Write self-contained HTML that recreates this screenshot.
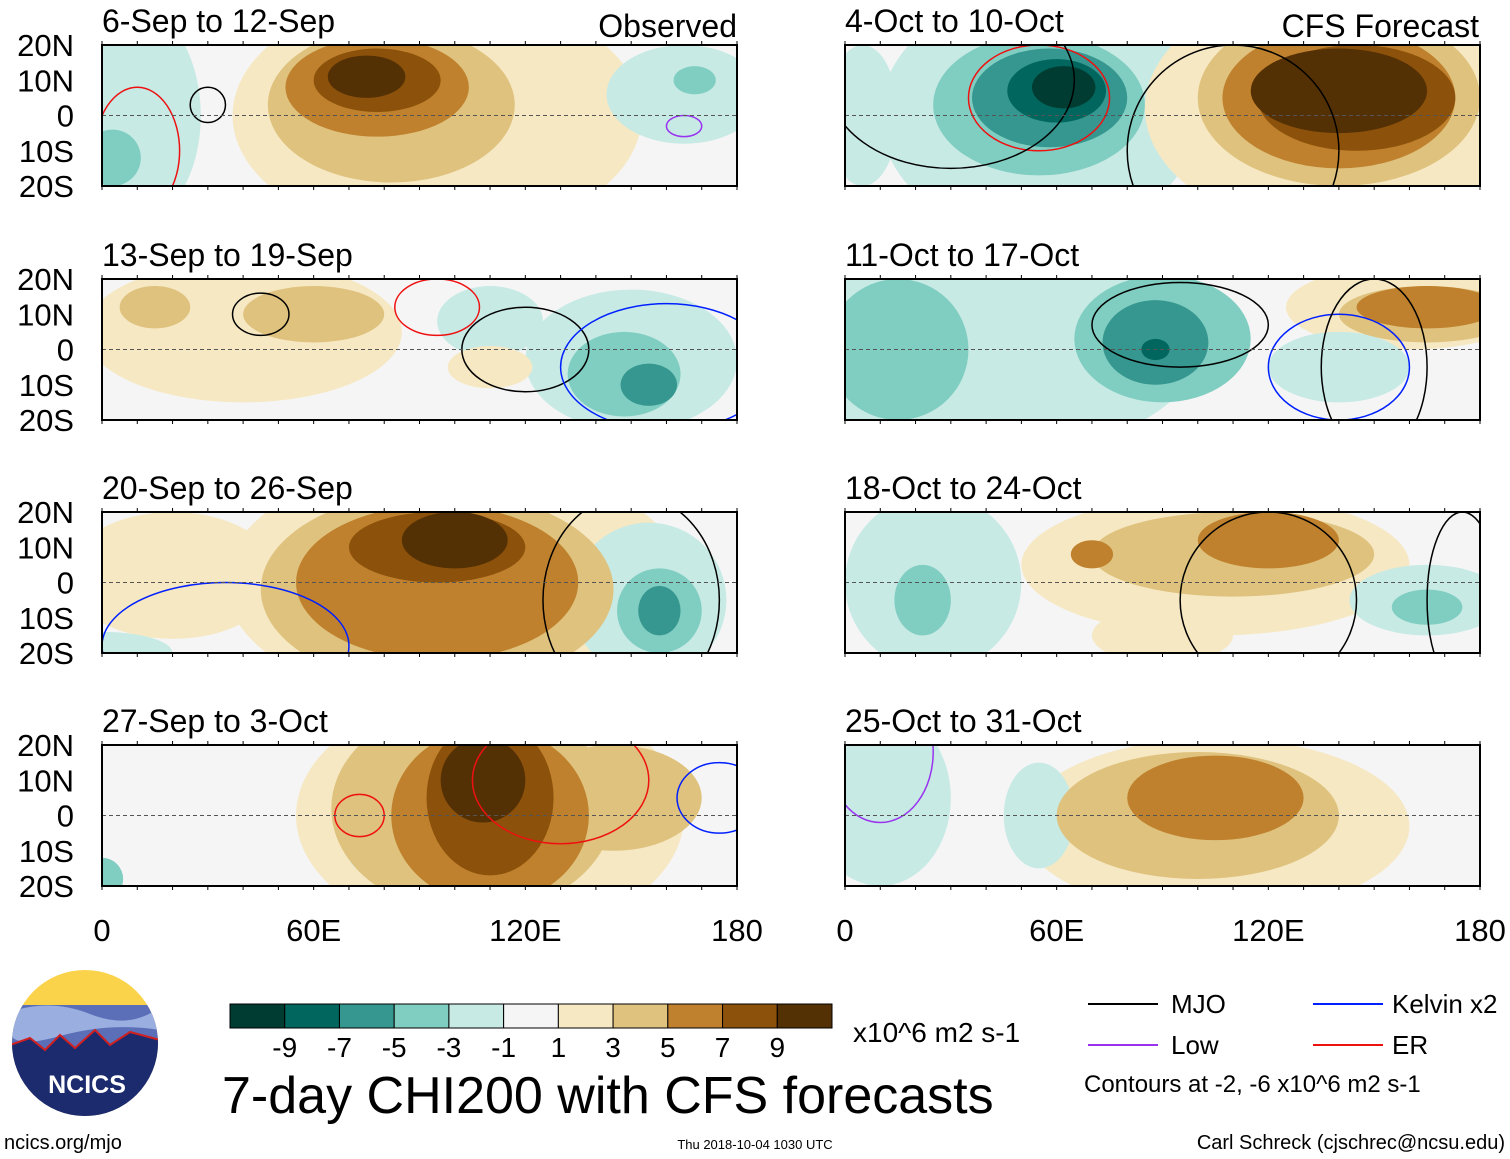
<!DOCTYPE html>
<html><head><meta charset="utf-8"><style>
body{margin:0;background:#fff;font-family:"Liberation Sans",sans-serif;}
#wrap{position:relative;width:1510px;height:1159px;overflow:hidden;}
svg text{font-family:"Liberation Sans",sans-serif;}
</style></head><body><div id="wrap">
<svg id="s" width="1510" height="1159" xmlns="http://www.w3.org/2000/svg"></svg>
</div>
<script>
const levels=[-9,-7,-5,-3,-1,1,3,5,7,9];
const colors=["#013c32","#01665e","#35978f","#80cdc1","#c7eae5","#f5f5f5","#f6e8c3","#dfc27d","#bf812d","#8c510a","#543005"];
const titles=["6-Sep to 12-Sep","13-Sep to 19-Sep","20-Sep to 26-Sep","27-Sep to 3-Oct","4-Oct to 10-Oct","11-Oct to 17-Oct","18-Oct to 24-Oct","25-Oct to 31-Oct"];
const latTicks=["20N","10N","0","10S","20S"];
const lonTicks=["0","60E","120E","180"];
// blobs: [lon, lat, rx(deg), ry(deg), value]
const p1=[[95,0,58,35,2],[82,3,35,22,4],[78,8,26,14,6],[78,10,18,9,8],[75,11,11,6,10],[10,0,18,30,-2],[3,-12,8,8,-4],[165,6,22,14,-2],[168,10,6,4,-4],[120,-12,15,8,0]];
const p2=[[40,5,45,20,2],[60,10,20,8,4],[15,12,10,6,4],[150,-3,30,20,-2],[148,-7,16,12,-4],[155,-10,8,6,-6],[110,8,15,10,-2],[110,-5,12,6,2]];
const p3=[[100,0,65,35,2],[95,-2,50,28,4],[95,0,40,22,6],[95,10,25,10,8],[100,12,15,8,10],[20,2,30,18,2],[155,-5,22,22,-2],[158,-8,12,12,-4],[158,-8,6,7,-6],[0,-20,20,6,-2]];
const p4=[[110,0,55,35,2],[105,2,40,30,4],[110,0,28,25,6],[110,5,18,22,8],[108,10,12,12,10],[145,5,25,15,4],[150,10,8,5,0],[0,-18,6,6,-4],[75,-8,6,8,-2],[10,0,15,20,0]];
const p5=[[55,0,45,35,-2],[55,3,30,20,-4],[58,5,22,14,-6],[60,7,14,9,-8],[62,8,9,6,-10],[140,2,55,35,2],[140,5,40,25,4],[140,5,33,20,6],[145,5,28,15,8],[140,7,25,12,10],[5,0,10,20,-2]];
const p6=[[40,0,60,30,-2],[15,0,20,20,-4],[90,3,25,18,-4],[88,2,15,12,-6],[88,0,4,3,-8],[160,12,35,12,2],[165,10,25,8,4],[165,12,20,6,6],[140,-5,20,10,-2]];
const p7=[[105,5,55,20,2],[110,8,40,12,4],[120,12,20,8,6],[70,8,6,4,6],[25,0,25,25,-2],[22,-5,8,10,-4],[165,-5,22,10,-2],[165,-7,10,5,-4],[90,-15,20,8,2]];
const p8=[[105,-3,55,25,2],[100,0,40,18,4],[105,5,25,12,6],[10,5,20,25,-2],[55,0,10,15,-2]];
const fields=[p1,p2,p3,p4,p5,p6,p7,p8];
// contours: [lon, lat, rx, ry, kind]
const c1=[[30,3,5,5,"mjo"],[10,-10,12,18,"er"],[165,-3,5,3,"low"]];
const c2=[[45,10,8,6,"mjo"],[95,12,12,8,"er"],[120,0,18,12,"mjo"],[160,-5,30,18,"kelvin"]];
const c3=[[35,-18,35,18,"kelvin"],[150,-5,25,30,"mjo"]];
const c4=[[73,0,7,6,"er"],[130,10,25,18,"er"],[175,5,12,10,"kelvin"]];
const c5=[[55,5,20,15,"er"],[30,10,35,25,"mjo"],[110,-10,30,30,"mjo"]];
const c6=[[95,7,25,12,"mjo"],[140,-5,20,15,"kelvin"],[150,-5,15,25,"mjo"]];
const c7=[[120,-5,25,25,"mjo"],[175,-5,10,25,"mjo"]];
const c8=[[10,18,15,20,"low"]];
const lines=[c1,c2,c3,c4,c5,c6,c7,c8];
const lineColors={mjo:"#000",kelvin:"#0020ff",er:"#ee1111",low:"#9933ee"};

const S=document.getElementById('s');const NS="http://www.w3.org/2000/svg";
function el(t,a,p){const e=document.createElementNS(NS,t);for(const k in a)e.setAttribute(k,a[k]);(p||S).appendChild(e);return e;}
function colorOf(v){let i=0;while(i<levels.length&&v>levels[i])i++;return colors[i];}
const px0=[102,845],pw=635,py0=[45,279,512,745],ph=141;
let defs=el('defs',{});
fields.forEach((f,i)=>{
  const col=i<4?0:1,row=i%4;const X0=px0[col],Y0=py0[row];
  const xs=lon=>X0+lon/180*pw, ys=lat=>Y0+(20-lat)/40*ph;
  const cp=el('clipPath',{id:'cp'+i},defs);el('rect',{x:X0,y:Y0,width:pw,height:ph},cp);
  const g=el('g',{'clip-path':'url(#cp'+i+')'});
  
  
  el('rect',{x:X0,y:Y0,width:pw,height:ph,fill:'#f5f5f5'},g);
  [...f].sort((a,b)=>Math.abs(a[4])-Math.abs(b[4])).forEach(b=>{
    const e=el('ellipse',{cx:xs(b[0]),cy:ys(b[1]),rx:b[2]/180*pw,ry:b[3]/40*ph,fill:colorOf(b[4])},g);
    
    
  });
  lines[i].forEach(c=>{
    const e=el('ellipse',{cx:xs(c[0]),cy:ys(c[1]),rx:c[2]/180*pw,ry:c[3]/40*ph,fill:'none',stroke:lineColors[c[4]],'stroke-width':1.5},g);
    
    
  });
  el('line',{x1:X0,x2:X0+pw,y1:ys(0),y2:ys(0),stroke:'#555','stroke-dasharray':'4,3','stroke-width':1},g);
  const fr=el('rect',{x:X0,y:Y0,width:pw,height:ph,fill:'none',stroke:'#000','stroke-width':2});
  
  
  for(let l=0;l<=180;l+=10){el('line',{x1:xs(l),x2:xs(l),y1:Y0-4,y2:Y0,stroke:'#000'});el('line',{x1:xs(l),x2:xs(l),y1:Y0+ph,y2:Y0+ph+4,stroke:'#000'});}
  const t=el('text',{x:X0,y:Y0-13,'font-size':32});t.textContent=titles[i];
  
  
  if(col===0){latTicks.forEach((lt,k)=>{const tt=el('text',{x:74,y:Y0+k*ph/4+11,'font-size':31,'text-anchor':'end'});tt.textContent=lt;
    
    });}
  if(row===3){lonTicks.forEach((lt,k)=>{const tt=el('text',{x:xs(k*60),y:941,'font-size':31,'text-anchor':'middle'});tt.textContent=lt;
    
    });}
});
let t=el('text',{x:737,y:37,'font-size':32,'text-anchor':'end'});t.textContent="Observed";

t=el('text',{x:1479,y:37,'font-size':32,'text-anchor':'end'});t.textContent="CFS Forecast";

// colorbar
const cbw=(832-230)/colors.length;
colors.forEach((c,k)=>{const r=el('rect',{x:230+k*cbw,y:1004,width:cbw,height:24,fill:c,stroke:'#000','stroke-width':1});
  });
levels.forEach((lv,k)=>{const tt=el('text',{x:230+(k+1)*cbw,y:1057,'font-size':28,'text-anchor':'middle'});tt.textContent=lv;
  });
t=el('text',{x:853,y:1042,'font-size':28});t.textContent="x10^6 m2 s-1";
t=el('text',{x:222,y:1113,'font-size':52});t.textContent="7-day CHI200 with CFS forecasts";
// legend
[["MJO","#000",1088,1171,1013],["Kelvin x2","#0020ff",1313,1392,1013],["Low","#9933ee",1088,1171,1054],["ER","#ee1111",1313,1392,1054]].forEach(L=>{
  const g=el('g',{});
  el('line',{x1:L[2],x2:L[2]+70,y1:L[4]-9,y2:L[4]-9,stroke:L[1],'stroke-width':2},g);
  const tt=el('text',{x:L[3],y:L[4],'font-size':26},g);tt.textContent=L[0];});
t=el('text',{x:1084,y:1092,'font-size':24});t.textContent="Contours at -2, -6 x10^6 m2 s-1";
t=el('text',{x:4,y:1149,'font-size':20});t.textContent="ncics.org/mjo";
t=el('text',{x:755,y:1149,'font-size':13,'text-anchor':'middle'});t.textContent="Thu 2018-10-04 1030 UTC";
t=el('text',{x:1505,y:1149,'font-size':20,'text-anchor':'end'});t.textContent="Carl Schreck (cjschrec@ncsu.edu)";
// logo
const lg=el('g',{});
const lcp=el('clipPath',{id:'lc'},defs);el('circle',{cx:85,cy:1043,r:73},lcp);
const lgg=el('g',{'clip-path':'url(#lc)'},lg);
el('rect',{x:10,y:968,width:150,height:150,fill:'#fbd34a'},lgg);
el('rect',{x:10,y:1005,width:150,height:120,fill:'#5a6fb8'},lgg);
el('path',{d:'M10 1012 Q50 998 90 1014 T160 1007 L160 1030 Q110 1022 60 1036 T10 1030 Z',fill:'#9aaee0'},lgg);
el('path',{d:'M10 1045 L30 1038 L45 1050 L60 1035 L75 1048 L95 1030 L110 1045 L130 1032 L160 1040 L160 1120 L10 1120 Z',fill:'#1c2a6e',stroke:'#d02020','stroke-width':2},lgg);
t=el('text',{x:87,y:1093,'font-size':25,'font-weight':'bold',fill:'#fff','text-anchor':'middle'},lg);t.textContent="NCICS";
</script></body></html>
